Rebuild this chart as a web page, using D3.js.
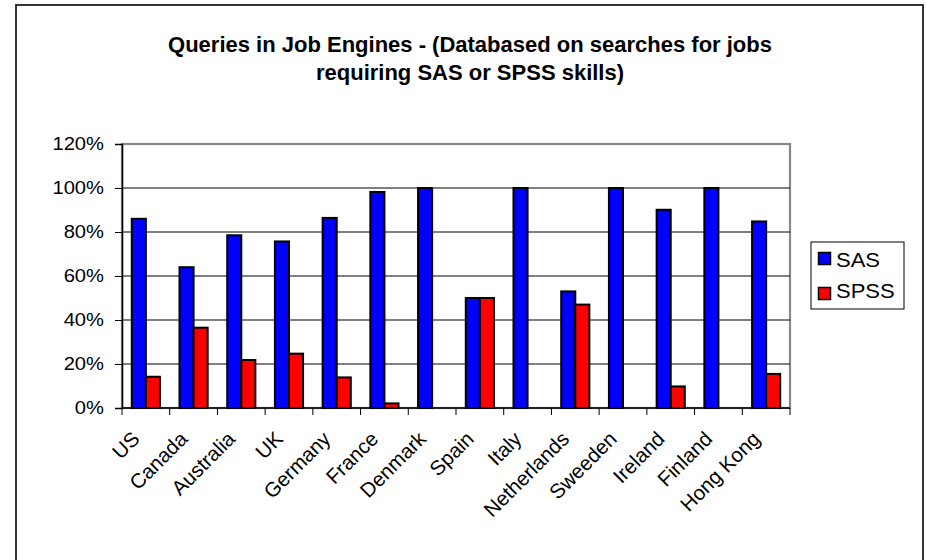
<!DOCTYPE html>
<html>
<head>
<meta charset="utf-8">
<script src="https://cdn.jsdelivr.net/npm/d3@7"></script>
<style>
  html, body { margin: 0; padding: 0; background: #fff; }
  svg { display: block; font-family: "Liberation Sans", Arial, sans-serif; }
</style>
</head>
<body>
<svg id="chart" width="926" height="560"></svg>
<script>
const categories = ["US","Canada","Australia","UK","Germany","France","Denmark","Spain","Italy","Netherlands","Sweeden","Ireland","Finland","Hong Kong"];
const seriesNames = ["SAS","SPSS"];
const sasValues  = [0.86, 0.64, 0.785, 0.757, 0.864, 0.982, 1.00, 0.50, 1.00, 0.53, 1.00, 0.901, 1.00, 0.848];
const spssValues = [0.142, 0.365, 0.218, 0.247, 0.139, 0.021, 0, 0.50, 0, 0.47, 0, 0.098, 0, 0.155];
const yTicks = [0, 0.2, 0.4, 0.6, 0.8, 1.0, 1.2];
const colors = ["#0000ff", "#ff0000"];
const titleLines = ["Queries in Job Engines - (Databased on searches for jobs", "requiring SAS or SPSS skills)"];

const svg = d3.select("#chart");

// outer frame
svg.append("rect").attr("x", 16).attr("y", 5).attr("width", 907).attr("height", 600)
  .attr("fill", "none").attr("stroke", "#222").attr("stroke-width", 1.8);

const plot = {left: 122, right: 790, top: 144, bottom: 408};

const x = d3.scaleBand().domain(categories).range([plot.left, plot.right]).paddingInner(0.41).paddingOuter(0.205);
const xs = d3.scaleBand().domain(seriesNames).range([0, x.bandwidth()]);
const y = d3.scaleLinear().domain([0, 1.2]).range([plot.bottom, plot.top]);

// title
const title = svg.append("text").attr("text-anchor", "middle").attr("font-weight", "bold")
  .attr("font-size", 22).attr("fill", "#000");
titleLines.forEach((t, i) => {
  title.append("tspan").attr("x", 470).attr("y", 52 + i * 28).text(t);
});

// plot frame (gray)
svg.append("rect").attr("x", plot.left).attr("y", plot.top)
  .attr("width", plot.right - plot.left).attr("height", plot.bottom - plot.top)
  .attr("fill", "none").attr("stroke", "#888").attr("stroke-width", 2.2);

// gridlines
svg.append("g").selectAll("line").data(yTicks.filter(d => d > 0 && d < 1.2)).join("line")
  .attr("x1", plot.left).attr("x2", plot.right)
  .attr("y1", d => y(d)).attr("y2", d => y(d))
  .attr("stroke", "#000").attr("stroke-width", 1);

// bars
const series = [sasValues, spssValues];
const groups = svg.append("g").selectAll("g").data(categories).join("g")
  .attr("transform", d => `translate(${x(d)},0)`);
groups.selectAll("rect").data((c, i) => seriesNames.map((s, j) => ({s, v: series[j][i], j})))
  .join("rect")
  .filter(d => d.v > 0)
  .attr("x", d => xs(d.s))
  .attr("y", d => y(d.v))
  .attr("width", xs.bandwidth())
  .attr("height", d => y(0) - y(d.v))
  .attr("fill", d => colors[d.j])
  .attr("stroke", "#000").attr("stroke-width", 2);

// y axis (line + ticks via d3 axis, labels drawn stretched)
const yAxis = d3.axisLeft(y).tickValues(yTicks).tickFormat("").tickSize(7);
const gy = svg.append("g").attr("transform", `translate(${plot.left},0)`).call(yAxis);
gy.select(".domain").attr("stroke", "#000").attr("stroke-width", 1.5);
gy.selectAll(".tick line").attr("stroke", "#000");
const fmt = d3.format(".0%");
svg.append("g").selectAll("text").data(yTicks).join("text")
  .attr("transform", d => `translate(104,${y(d)}) scale(1.12,1)`)
  .attr("text-anchor", "end").attr("dy", "0.36em")
  .attr("font-size", 18).attr("fill", "#000")
  .text(d => fmt(d));

// x axis line + ticks at category boundaries
const boundaries = categories.map(c => x(c) - x.step() * x.paddingInner() / 2).concat([plot.right]);
svg.append("line").attr("x1", plot.left).attr("x2", plot.right).attr("y1", plot.bottom).attr("y2", plot.bottom)
  .attr("stroke", "#000").attr("stroke-width", 1.5);
svg.append("g").selectAll("line").data(boundaries).join("line")
  .attr("x1", d => d).attr("x2", d => d).attr("y1", plot.bottom).attr("y2", plot.bottom + 7)
  .attr("stroke", "#000").attr("stroke-width", 1);

// x labels
svg.append("g").selectAll("text").data(categories).join("text")
  .attr("transform", d => `translate(${x(d) + x.bandwidth() / 2 - 15},${plot.bottom + 22}) rotate(-45)`)
  .attr("text-anchor", "end").attr("dy", "0.7em")
  .attr("font-size", 20.5).attr("fill", "#000")
  .text(d => d);

// legend
const lg = svg.append("g").attr("transform", "translate(811,242)");
lg.append("rect").attr("width", 93).attr("height", 67).attr("fill", "#fff").attr("stroke", "#000").attr("stroke-width", 1);
seriesNames.forEach((s, i) => {
  lg.append("rect").attr("x", 7.5).attr("y", 10.5 + i * 35).attr("width", 12).attr("height", 12)
    .attr("fill", colors[i]).attr("stroke", "#000").attr("stroke-width", 1.5);
  lg.append("text").attr("transform", `translate(25,${24.5 + i * 31.5}) scale(1.1,1)`)
    .attr("font-size", 20).attr("fill", "#000").text(s);
});
</script>
</body>
</html>
